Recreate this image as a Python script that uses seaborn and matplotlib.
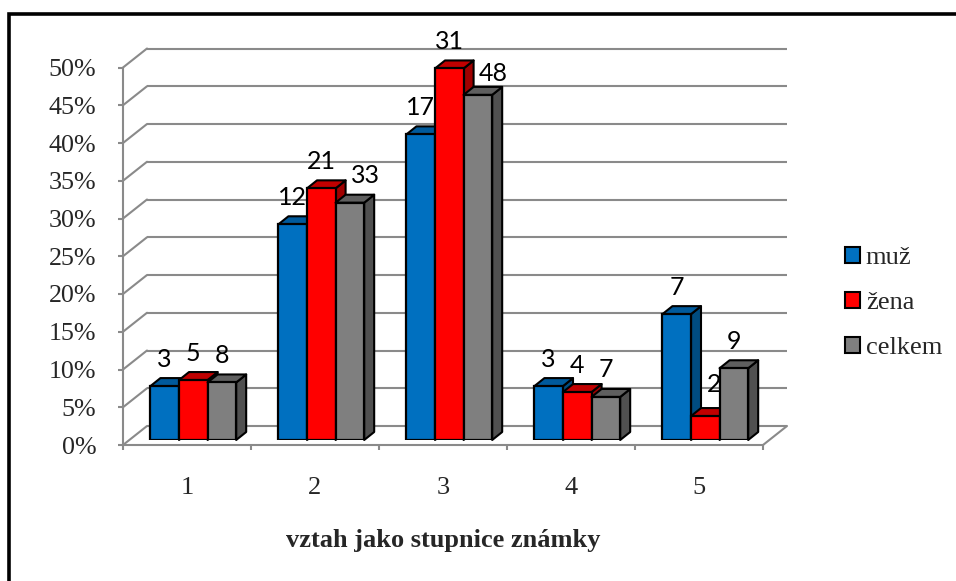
import matplotlib
matplotlib.use("Agg")
import matplotlib.pyplot as plt
import pandas as pd
import seaborn as sns
from matplotlib.lines import Line2D
from matplotlib.patches import Polygon, Rectangle
from matplotlib.ticker import PercentFormatter

categories = ["1", "2", "3", "4", "5"]
series_names = ["muž", "žena", "celkem"]
muz_pct = [7.14, 28.57, 40.48, 7.14, 16.67]
zena_pct = [7.94, 33.33, 49.21, 6.35, 3.17]
celkem_pct = [7.62, 31.43, 45.71, 5.7, 9.5]
muz_counts = [3, 12, 17, 3, 7]
zena_counts = [5, 21, 31, 4, 2]
celkem_counts = [8, 33, 48, 7, 9]
y_ticks = [0, 5, 10, 15, 20, 25, 30, 35, 40, 45, 50]

W, H = 956, 581
FRONT = (123, 763, 445, 67.5)  # pixels: left, right, y of 0%, y of 50%
WALL_DX, WALL_DY = 24, 19
BAR_DX, BAR_DY = 6.3, 5
DEPTH_DX, DEPTH_DY = 10, 8
GRID = "#8A8A8A"

front_colors = ["#0070C0", "#FF0000", "#7F7F7F"]
top_colors = ["#005A9C", "#C00000", "#5F5F5F"]
side_colors = ["#004C80", "#A00000", "#505050"]

df = pd.DataFrame({
    "cat": categories * 3,
    "serie": [s for s in series_names for _ in categories],
    "pct": muz_pct + zena_pct + celkem_pct,
})
counts = [muz_counts, zena_counts, celkem_counts]

# (group, series) -> label shift in pixels where Excel moved it off the bar
label_nudge = {(1, 2): (16, 0), (2, 2): (15, -6), (4, 1): (9, 5)}

sns.set_style("white")
plt.rcParams["font.family"] = "Liberation Serif"

fig = plt.figure(figsize=(W / 100, H / 100), dpi=100)
l, r, y0, y50 = FRONT


def axes_at(dx, dy):
    a = fig.add_axes([(l + dx) / W, (H - y0 + dy) / H, (r - l) / W, (y0 - y50) / H])
    a.set_xlim(-0.5, 4.5)
    a.set_ylim(0, 50)
    return a


ax = axes_at(0, 0)
bar_ax = axes_at(BAR_DX, BAR_DY)
bar_ax.patch.set_alpha(0)
bar_ax.axis("off")

px_x = 5 / (r - l)
px_y = 50 / (y0 - y50)

# back wall and left wall
ax.hlines([v + WALL_DY * px_y for v in y_ticks], -0.5 + WALL_DX * px_x, 4.5 + WALL_DX * px_x,
          color=GRID, lw=1.5, clip_on=False)
for v in y_ticks:
    ax.plot([-0.5, -0.5 + WALL_DX * px_x], [v, v + WALL_DY * px_y], color=GRID, lw=1.5, clip_on=False)
ax.plot([4.5, 4.5 + WALL_DX * px_x], [0, WALL_DY * px_y], color=GRID, lw=1.5, clip_on=False)

ax.set_yticks(y_ticks)
ax.yaxis.set_major_formatter(PercentFormatter(decimals=0))
ax.set_xticks(range(5))
ax.set_xticklabels(categories)
ax.set_xticks([i - 0.5 for i in range(6)], minor=True)
ax.tick_params(axis="y", length=3.6, width=1.5, color=GRID, labelsize=18.7, pad=15.5, left=True)
ax.tick_params(axis="x", which="major", length=0, labelsize=19, pad=23)
ax.tick_params(axis="x", which="minor", length=3.6, width=1.5, color=GRID, bottom=True)
for name, sp in ax.spines.items():
    sp.set_visible(name in ("left", "bottom"))
    sp.set_color(GRID)
    sp.set_linewidth(1.5)
ax.set_xlabel("vztah jako stupnice známky", fontsize=19, fontweight="bold", labelpad=22)
ax.patch.set_alpha(0)

sns.barplot(data=df, x="cat", y="pct", hue="serie", ax=bar_ax, palette=front_colors,
            width=0.67, saturation=1, errorbar=None, edgecolor="black", linewidth=1.6, legend=False)
bar_ax.set_xlim(-0.5, 4.5)
bar_ax.set_ylim(0, 50)
bar_ax.axis("off")

dx = DEPTH_DX * px_x
dy = DEPTH_DY * px_y
for g in range(5):
    for s in range(3):
        bar = bar_ax.containers[s][g]
        z = 10 + g * 10 + s * 3
        x0, w, h = bar.get_x(), bar.get_width(), bar.get_height()
        x1 = x0 + w
        bar.set_zorder(z + 1)
        bar_ax.add_patch(Polygon([(x1, 0), (x1 + dx, dy), (x1 + dx, h + dy), (x1, h)], closed=True,
                                 facecolor=side_colors[s], edgecolor="black", lw=1.5, zorder=z,
                                 clip_on=False, joinstyle="round"))
        bar_ax.add_patch(Polygon([(x0, h), (x0 + dx, h + dy), (x1 + dx, h + dy), (x1, h)], closed=True,
                                 facecolor=top_colors[s], edgecolor="black", lw=1.5, zorder=z,
                                 clip_on=False, joinstyle="round"))
        nx, ny = label_nudge.get((g, s), (0, 0))
        bar_ax.annotate(str(counts[s][g]), (x0 + w / 2, h), xytext=(nx * 0.72, (27 + ny) * 0.72),
                        textcoords="offset points", ha="center", va="center",
                        fontsize=18, family="Lato", color="black", zorder=z + 2, annotation_clip=False)

handles = [Rectangle((0, 0), 1, 1, facecolor=c, edgecolor="black", lw=1.5) for c in front_colors]
fig.legend(handles, series_names, loc="center left", bbox_to_anchor=(845 / W, (H - 303) / H),
           frameon=False, fontsize=19, handlelength=0.57, handleheight=0.57, handletextpad=0.22,
           labelspacing=0.85, borderpad=0, borderaxespad=0)

# outer frame: only left and top edges are on the picture
fig.add_artist(Line2D([8.5 / W, 8.5 / W, 1], [0, 1 - 13.5 / H, 1 - 13.5 / H], transform=fig.transFigure,
                      color="black", lw=2.6, solid_joinstyle="miter"))

fig.savefig("out.png", dpi=100)
